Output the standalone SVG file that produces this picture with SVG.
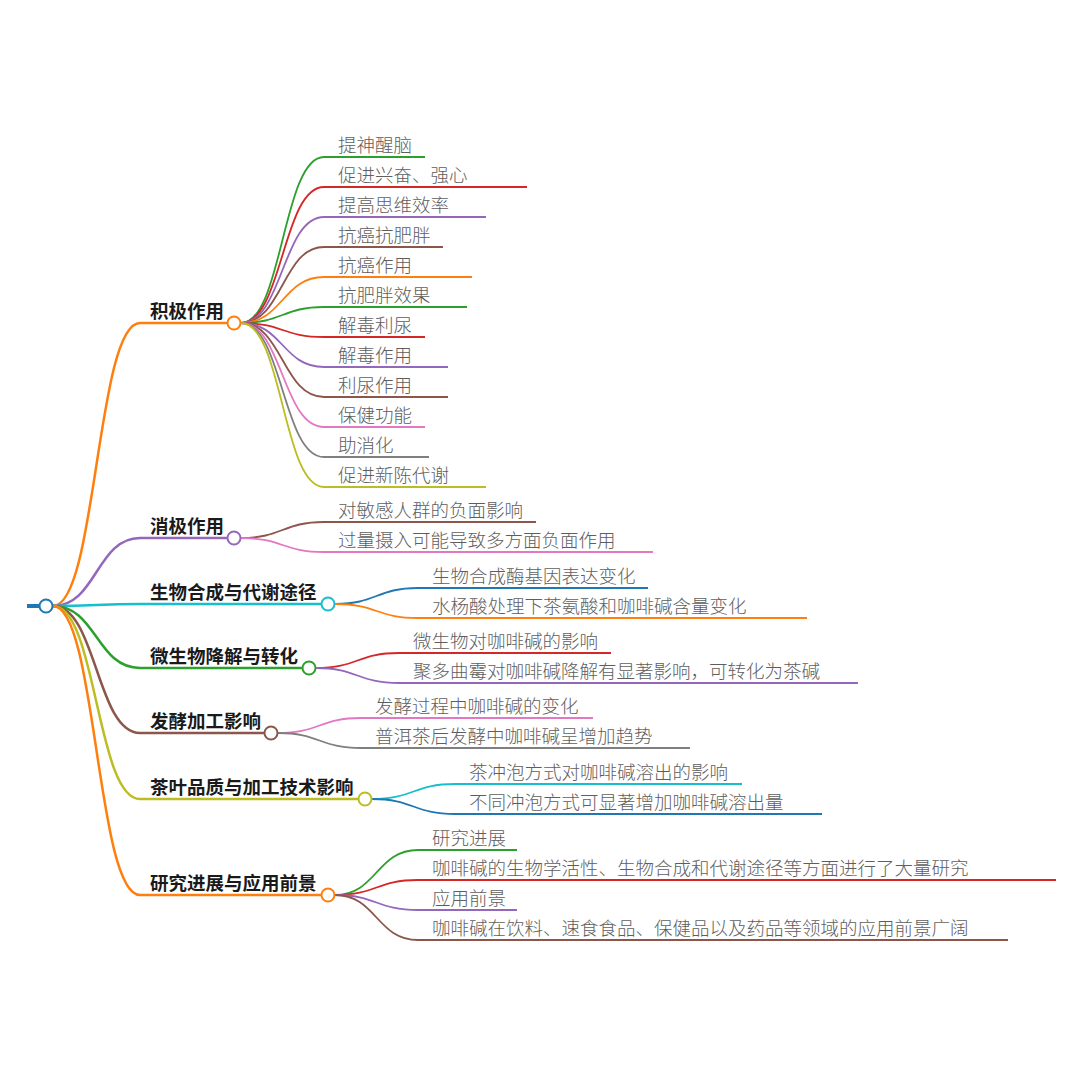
<svg xmlns="http://www.w3.org/2000/svg" width="1080" height="1074" viewBox="0 0 1080 1074">
<style>
.l1{fill:none;stroke-width:2.5}
.l2{fill:none;stroke-width:1.8}
.u1{stroke-width:2.5}
.u2{stroke-width:1.8}
.t1{font-family:"Noto Sans CJK SC","Noto Sans",sans-serif;font-size:18.5px;font-weight:bold;fill:#1a1a1a}
.t2{font-family:"Noto Sans CJK SC","Noto Sans",sans-serif;font-size:18.5px;font-weight:300;fill:#5e5e5e}
.dot{fill:#fff;stroke-width:2}
.bl{stroke:#1f77b4}.or{stroke:#ff7f0e}.gr{stroke:#2ca02c}.rd{stroke:#d62728}.pu{stroke:#9467bd}
.br{stroke:#8c564b}.pk{stroke:#e377c2}.gy{stroke:#7f7f7f}.ol{stroke:#bcbd22}.cy{stroke:#17becf}
</style>
<rect width="1080" height="1074" fill="#fff"/>
<g id="connectors">
<path class="l1 or" d="M53,606 C96.5,606 96.5,323 140,323"/>
<path class="l1 pu" d="M53,606 C96.5,606 96.5,538 140,538"/>
<path class="l1 cy" d="M53,606 C96.5,606 96.5,604 140,604"/>
<path class="l1 gr" d="M53,606 C96.5,606 96.5,668 140,668"/>
<path class="l1 br" d="M53,606 C96.5,606 96.5,733 140,733"/>
<path class="l1 ol" d="M53,606 C96.5,606 96.5,799 140,799"/>
<path class="l1 or" d="M53,606 C96.5,606 96.5,895 140,895"/>
<path class="l2 gr" d="M241,323 C282.5,323 282.5,157 324,157"/>
<path class="l2 rd" d="M241,323 C282.5,323 282.5,187 324,187"/>
<path class="l2 pu" d="M241,323 C282.5,323 282.5,217 324,217"/>
<path class="l2 br" d="M241,323 C282.5,323 282.5,247 324,247"/>
<path class="l2 or" d="M241,323 C282.5,323 282.5,277 324,277"/>
<path class="l2 gr" d="M241,323 C282.5,323 282.5,307 324,307"/>
<path class="l2 rd" d="M241,323 C282.5,323 282.5,337 324,337"/>
<path class="l2 pu" d="M241,323 C282.5,323 282.5,367 324,367"/>
<path class="l2 br" d="M241,323 C282.5,323 282.5,397 324,397"/>
<path class="l2 pk" d="M241,323 C282.5,323 282.5,427 324,427"/>
<path class="l2 gy" d="M241,323 C282.5,323 282.5,457 324,457"/>
<path class="l2 ol" d="M241,323 C282.5,323 282.5,487 324,487"/>
<path class="l2 br" d="M241,538 C282.5,538 282.5,522 324,522"/>
<path class="l2 pk" d="M241,538 C282.5,538 282.5,552 324,552"/>
<path class="l2 bl" d="M335,604 C376.5,604 376.5,588 418,588"/>
<path class="l2 or" d="M335,604 C376.5,604 376.5,618 418,618"/>
<path class="l2 rd" d="M316,668 C357.5,668 357.5,653 399,653"/>
<path class="l2 pu" d="M316,668 C357.5,668 357.5,683 399,683"/>
<path class="l2 pk" d="M278,733 C319.5,733 319.5,718 361,718"/>
<path class="l2 gy" d="M278,733 C319.5,733 319.5,748 361,748"/>
<path class="l2 cy" d="M372,799 C413.5,799 413.5,784 455,784"/>
<path class="l2 bl" d="M372,799 C413.5,799 413.5,814 455,814"/>
<path class="l2 gr" d="M335,895 C376.5,895 376.5,850 418,850"/>
<path class="l2 rd" d="M335,895 C376.5,895 376.5,880 418,880"/>
<path class="l2 pu" d="M335,895 C376.5,895 376.5,910 418,910"/>
<path class="l2 br" d="M335,895 C376.5,895 376.5,940 418,940"/>
</g>
<g id="root">
<line class="bl" x1="27" y1="606" x2="42" y2="606" stroke-width="4"/>
<circle class="dot bl" cx="46" cy="606" r="6.5"/>
</g>
<g id="n1"><line class="u1 or" x1="140" y1="323" x2="234" y2="323"/><text class="t1" x="150" y="318">积极作用</text><circle class="dot or" cx="234" cy="323" r="6.5"/></g>
<g id="n1-1"><line class="u2 gr" x1="324" y1="157" x2="425" y2="157"/><text class="t2" x="338" y="152">提神醒脑</text></g>
<g id="n1-2"><line class="u2 rd" x1="324" y1="187" x2="527" y2="187"/><text class="t2" x="338" y="182">促进兴奋、强心</text></g>
<g id="n1-3"><line class="u2 pu" x1="324" y1="217" x2="486" y2="217"/><text class="t2" x="338" y="212">提高思维效率</text></g>
<g id="n1-4"><line class="u2 br" x1="324" y1="247" x2="443" y2="247"/><text class="t2" x="338" y="242">抗癌抗肥胖</text></g>
<g id="n1-5"><line class="u2 or" x1="324" y1="277" x2="472" y2="277"/><text class="t2" x="338" y="272">抗癌作用</text></g>
<g id="n1-6"><line class="u2 gr" x1="324" y1="307" x2="467" y2="307"/><text class="t2" x="338" y="302">抗肥胖效果</text></g>
<g id="n1-7"><line class="u2 rd" x1="324" y1="337" x2="425" y2="337"/><text class="t2" x="338" y="332">解毒利尿</text></g>
<g id="n1-8"><line class="u2 pu" x1="324" y1="367" x2="448" y2="367"/><text class="t2" x="338" y="362">解毒作用</text></g>
<g id="n1-9"><line class="u2 br" x1="324" y1="397" x2="448" y2="397"/><text class="t2" x="338" y="392">利尿作用</text></g>
<g id="n1-10"><line class="u2 pk" x1="324" y1="427" x2="425" y2="427"/><text class="t2" x="338" y="422">保健功能</text></g>
<g id="n1-11"><line class="u2 gy" x1="324" y1="457" x2="429" y2="457"/><text class="t2" x="338" y="452">助消化</text></g>
<g id="n1-12"><line class="u2 ol" x1="324" y1="487" x2="486" y2="487"/><text class="t2" x="338" y="482">促进新陈代谢</text></g>
<g id="n2"><line class="u1 pu" x1="140" y1="538" x2="234" y2="538"/><text class="t1" x="150" y="533">消极作用</text><circle class="dot pu" cx="234" cy="538" r="6.5"/></g>
<g id="n2-1"><line class="u2 br" x1="324" y1="522" x2="536" y2="522"/><text class="t2" x="338" y="517">对敏感人群的负面影响</text></g>
<g id="n2-2"><line class="u2 pk" x1="324" y1="552" x2="653" y2="552"/><text class="t2" x="338" y="547">过量摄入可能导致多方面负面作用</text></g>
<g id="n3"><line class="u1 cy" x1="140" y1="604" x2="328" y2="604"/><text class="t1" x="150" y="599">生物合成与代谢途径</text><circle class="dot cy" cx="328" cy="604" r="6.5"/></g>
<g id="n3-1"><line class="u2 bl" x1="418" y1="588" x2="648" y2="588"/><text class="t2" x="432" y="583">生物合成酶基因表达变化</text></g>
<g id="n3-2"><line class="u2 or" x1="418" y1="618" x2="807" y2="618"/><text class="t2" x="432" y="613">水杨酸处理下茶氨酸和咖啡碱含量变化</text></g>
<g id="n4"><line class="u1 gr" x1="140" y1="668" x2="309" y2="668"/><text class="t1" x="150" y="663">微生物降解与转化</text><circle class="dot gr" cx="309" cy="668" r="6.5"/></g>
<g id="n4-1"><line class="u2 rd" x1="399" y1="653" x2="611" y2="653"/><text class="t2" x="413" y="648">微生物对咖啡碱的影响</text></g>
<g id="n4-2"><line class="u2 pu" x1="399" y1="683" x2="858" y2="683"/><text class="t2" x="413" y="678">聚多曲霉对咖啡碱降解有显著影响，可转化为茶碱</text></g>
<g id="n5"><line class="u1 br" x1="140" y1="733" x2="271" y2="733"/><text class="t1" x="150" y="728">发酵加工影响</text><circle class="dot br" cx="271" cy="733" r="6.5"/></g>
<g id="n5-1"><line class="u2 pk" x1="361" y1="718" x2="593" y2="718"/><text class="t2" x="375" y="713">发酵过程中咖啡碱的变化</text></g>
<g id="n5-2"><line class="u2 gy" x1="361" y1="748" x2="690" y2="748"/><text class="t2" x="375" y="743">普洱茶后发酵中咖啡碱呈增加趋势</text></g>
<g id="n6"><line class="u1 ol" x1="140" y1="799" x2="365" y2="799"/><text class="t1" x="150" y="794">茶叶品质与加工技术影响</text><circle class="dot ol" cx="365" cy="799" r="6.5"/></g>
<g id="n6-1"><line class="u2 cy" x1="455" y1="784" x2="742" y2="784"/><text class="t2" x="469" y="779">茶冲泡方式对咖啡碱溶出的影响</text></g>
<g id="n6-2"><line class="u2 bl" x1="455" y1="814" x2="822" y2="814"/><text class="t2" x="469" y="809">不同冲泡方式可显著增加咖啡碱溶出量</text></g>
<g id="n7"><line class="u1 or" x1="140" y1="895" x2="328" y2="895"/><text class="t1" x="150" y="890">研究进展与应用前景</text><circle class="dot or" cx="328" cy="895" r="6.5"/></g>
<g id="n7-1"><line class="u2 gr" x1="418" y1="850" x2="517" y2="850"/><text class="t2" x="432" y="845">研究进展</text></g>
<g id="n7-2"><line class="u2 rd" x1="418" y1="880" x2="1056" y2="880"/><text class="t2" x="432" y="875">咖啡碱的生物学活性、生物合成和代谢途径等方面进行了大量研究</text></g>
<g id="n7-3"><line class="u2 pu" x1="418" y1="910" x2="517" y2="910"/><text class="t2" x="432" y="905">应用前景</text></g>
<g id="n7-4"><line class="u2 br" x1="418" y1="940" x2="1008" y2="940"/><text class="t2" x="432" y="935">咖啡碱在饮料、速食食品、保健品以及药品等领域的应用前景广阔</text></g>
</svg>
